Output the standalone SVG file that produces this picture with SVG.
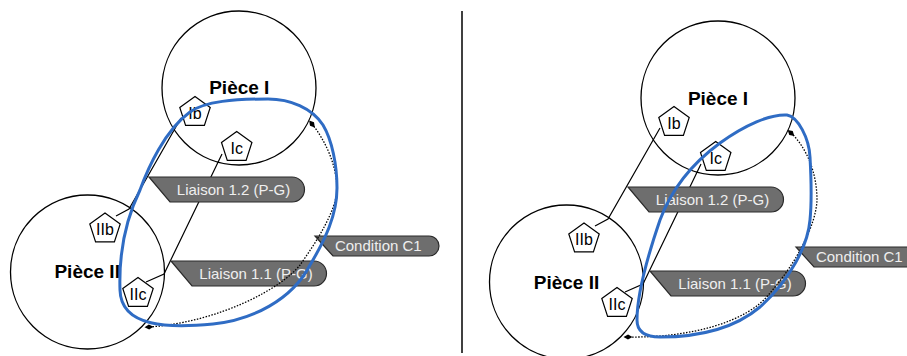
<svg xmlns="http://www.w3.org/2000/svg" xmlns:xlink="http://www.w3.org/1999/xlink" width="907" height="356" viewBox="0 0 907 356">
<style>
  .piece { fill: none; stroke: #000; stroke-width: 1.3; }
  .ptitle { font-family: "Liberation Sans", Arial, sans-serif; font-weight: bold; font-size: 19px; fill: #000; text-anchor: middle; }
  .pent { fill: #fff; stroke: #000; stroke-width: 1.2; }
  .ptext { font-family: "Liberation Sans", Arial, sans-serif; font-size: 16px; fill: #000; text-anchor: middle; }
  .link { fill: none; stroke: #000; stroke-width: 1.2; }
  .tag { fill: #6e6e6e; stroke: #2a2a2a; stroke-width: 1.2; }
  .tagtext { font-family: "Liberation Sans", Arial, sans-serif; font-size: 15px; fill: #efefef; text-anchor: middle; }
  .cond { fill: none; stroke: #000; stroke-width: 1.3; stroke-dasharray: 1.5 1.5; }
  .loop { fill: none; stroke: #2f6cc4; stroke-width: 3; }
  .sep { stroke: #000; stroke-width: 1.5; }
</style>
<defs>
  <polygon id="pentagon" points="0,-16 15.22,-4.94 9.4,12.94 -9.4,12.94 -15.22,-4.94"/>
  <marker id="diamond" viewBox="-5 -3 10 6" markerWidth="10" markerHeight="6" markerUnits="userSpaceOnUse" refX="0" refY="0" orient="auto">
    <path d="M-4.5,0 L0,-2.6 L4.5,0 L0,2.6 Z" fill="#000"/>
  </marker>
</defs>

<line class="sep" x1="462" y1="11" x2="462" y2="353"/>

<!-- ============ LEFT PANEL ============ -->
<g id="left-connectors">
  <polyline class="link" points="181,118 129,209 116,216"/>
  <polyline class="link" points="222,154 164,274 146,282"/>
</g>
<g id="left-piece-1">
  <circle class="piece" cx="239" cy="88" r="77"/>
  <text class="ptitle" x="239.3" y="94.3">Pièce I</text>
</g>
<g id="left-piece-2">
  <circle class="piece" cx="87.5" cy="272" r="77"/>
  <text class="ptitle" x="87.2" y="278.3">Pièce II</text>
</g>
<g id="left-Ib"><use xlink:href="#pentagon" class="pent" x="195" y="112.5"/><text class="ptext" x="195" y="118.5">Ib</text></g>
<g id="left-Ic"><use xlink:href="#pentagon" class="pent" x="236.7" y="147.5"/><text class="ptext" x="236.7" y="153.5">Ic</text></g>
<g id="left-IIb"><use xlink:href="#pentagon" class="pent" x="105" y="229"/><text class="ptext" x="105" y="235">IIb</text></g>
<g id="left-IIc"><use xlink:href="#pentagon" class="pent" x="138" y="293.5"/><text class="ptext" x="138" y="299.5">IIc</text></g>
<g id="left-liaison-12">
  <path class="tag" d="M149,177 H292 A12.5,12.5 0 0 1 292,202 H170 Z"/>
  <text class="tagtext" x="233.5" y="194.5">Liaison 1.2 (P-G)</text>
</g>
<g id="left-liaison-11">
  <path class="tag" d="M171,261 H314 A12.5,12.5 0 0 1 314,286 H192 Z"/>
  <text class="tagtext" x="256" y="278.5">Liaison 1.1 (P-G)</text>
</g>
<g id="left-condition">
  <path class="tag" d="M315,236 H429 A10,10 0 0 1 429,256 H333 Z"/>
  <text class="tagtext" x="378.3" y="251">Condition C1</text>
</g>
<g id="left-condition-link">
  <path class="cond" marker-start="url(#diamond)" marker-end="url(#diamond)" d="M312,124 C325,140 337,165 337,190 C336,210 318,240 300,265 C282,288 220,322 149,327"/>
</g>
<g id="left-loop">
  <path class="loop" d="M120,290 C119,260 123,225 140,190 C148,168 165,130 190,112 C205,101 235,99 268,99 C290,99 312,108 323,125 C332,140 337,165 337,188 C337,215 325,240 310,265 C292,300 252,320 213,324 C170,328 121,328 120,290 Z"/>
</g>

<!-- ============ RIGHT PANEL ============ -->
<g id="right-connectors">
  <polyline class="link" points="660,128 608,219 595,226"/>
  <polyline class="link" points="701,164 643,284 625,292"/>
</g>
<g id="right-piece-1">
  <circle class="piece" cx="718" cy="98" r="77"/>
  <text class="ptitle" x="718" y="104.5">Pièce I</text>
</g>
<g id="right-piece-2">
  <circle class="piece" cx="566.5" cy="282" r="77"/>
  <text class="ptitle" x="566.5" y="288.5">Pièce II</text>
</g>
<g id="right-Ib"><use xlink:href="#pentagon" class="pent" x="674" y="122.5"/><text class="ptext" x="674" y="128.5">Ib</text></g>
<g id="right-Ic"><use xlink:href="#pentagon" class="pent" x="715.7" y="157.5"/><text class="ptext" x="715.7" y="163.5">Ic</text></g>
<g id="right-IIb"><use xlink:href="#pentagon" class="pent" x="584" y="239"/><text class="ptext" x="584" y="245">IIb</text></g>
<g id="right-IIc"><use xlink:href="#pentagon" class="pent" x="617" y="303.5"/><text class="ptext" x="617" y="309.5">IIc</text></g>
<g id="right-liaison-12">
  <path class="tag" d="M628,187 H771 A12.5,12.5 0 0 1 771,212 H649 Z"/>
  <text class="tagtext" x="712.5" y="204.5">Liaison 1.2 (P-G)</text>
</g>
<g id="right-liaison-11">
  <path class="tag" d="M650,271 H793 A12.5,12.5 0 0 1 793,296 H671 Z"/>
  <text class="tagtext" x="735" y="288.5">Liaison 1.1 (P-G)</text>
</g>
<g id="right-condition">
  <path class="tag" d="M796,247 H910 A10,10 0 0 1 910,267 H814 Z"/>
  <text class="tagtext" x="859.3" y="262">Condition C1</text>
</g>
<g id="right-condition-link">
  <path class="cond" marker-start="url(#diamond)" marker-end="url(#diamond)" d="M791,133 C806,147 817,172 817,200 C816,225 797,262 770,293 C748,322 690,338 628,337"/>
</g>
<g id="right-loop">
  <path class="loop" d="M637,320 C637,295 648,255 660,220 C670,193 690,165 720,143 C745,125 770,114 787,115 C798,117 809,138 810,157 C811,175 812,200 810,220 C808,245 790,280 760,307 C735,328 700,337 660,337 C645,337 637,332 637,320 Z"/>
</g>
</svg>
